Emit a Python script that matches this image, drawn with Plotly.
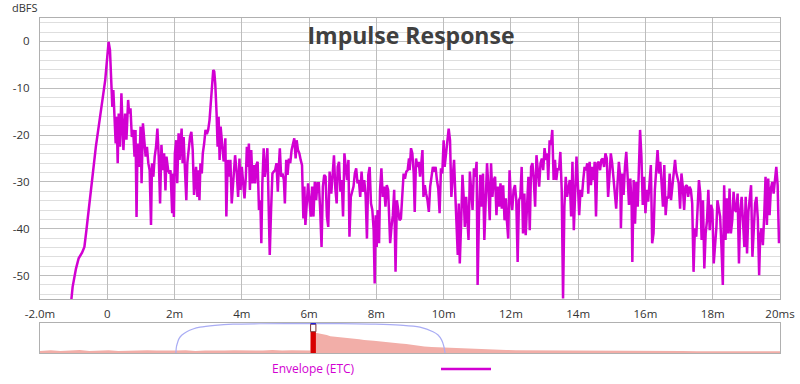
import plotly.graph_objects as go

# ---------------- main ETC trace (time in ms, level in dBFS) ----------------
t_ms = [
    -1.08, -1.03, -0.93, -0.85, -0.75, -0.68, -0.62, -0.54, -0.44, -0.34, -0.24, -0.14, -0.06,
    0.00, 0.04, 0.08, 0.12, 0.15, 0.18, 0.22, 0.25, 0.28, 0.31, 0.34, 0.38, 0.42, 0.46, 0.48,
    0.53, 0.57, 0.62, 0.65, 0.69, 0.73, 0.77, 0.81, 0.84, 0.87, 0.90, 0.95, 0.99, 1.02, 1.06,
    1.10, 1.14, 1.18, 1.22, 1.26, 1.30, 1.33, 1.37, 1.41, 1.45, 1.49, 1.53, 1.57, 1.61, 1.65,
    1.69, 1.73, 1.76, 1.81, 1.85, 1.88, 1.93, 1.96, 1.98, 2.01, 2.05, 2.08, 2.12, 2.15, 2.18,
    2.21, 2.24, 2.27, 2.31, 2.35, 2.38, 2.42, 2.46, 2.50, 2.54, 2.58, 2.61, 2.64, 2.68, 2.71,
    2.74, 2.77, 2.81, 2.84, 2.88, 2.92, 2.96, 3.00, 3.04, 3.07, 3.12, 3.15, 3.18, 3.21, 3.25,
    3.28, 3.31, 3.34, 3.37, 3.41, 3.44, 3.46,
    3.48, 3.51, 3.54, 3.58, 3.62, 3.66, 3.70, 3.75, 3.80, 3.85, 3.89, 3.93, 3.96, 4.00, 4.04,
    4.08, 4.12, 4.15, 4.18, 4.21, 4.24, 4.28, 4.32, 4.36, 4.40, 4.43, 4.47, 4.51, 4.55, 4.58,
    4.61, 4.65, 4.68, 4.72, 4.76, 4.80, 4.83, 4.87, 4.91, 4.95, 4.99, 5.03, 5.07, 5.10, 5.13,
    5.17, 5.21, 5.25, 5.28, 5.32, 5.36, 5.40, 5.44, 5.48, 5.52, 5.56, 5.60, 5.63, 5.67, 5.71,
    5.75, 5.79, 5.83, 5.86, 5.89, 5.93, 5.97, 6.01, 6.05, 6.09, 6.13, 6.17, 6.21, 6.25, 6.29,
    6.33, 6.37, 6.41, 6.45, 6.49, 6.53, 6.57, 6.61, 6.66, 6.70, 6.74, 6.78, 6.82, 6.85, 6.89,
    6.93, 6.97, 7.01, 7.05, 7.09, 7.13, 7.17, 7.20, 7.24, 7.28, 7.32, 7.36, 7.40, 7.44, 7.48,
    7.52, 7.56, 7.60, 7.64, 7.68, 7.72, 7.76, 7.80, 7.84, 7.88, 7.92, 7.95, 7.98, 8.01, 8.04,
    8.08, 8.11, 8.15, 8.19, 8.23, 8.27, 8.31, 8.35, 8.39, 8.41, 8.45, 8.49, 8.53, 8.57, 8.61,
    8.65, 8.69, 8.73, 8.77, 8.81, 8.85, 8.89, 8.93, 8.97,
    8.99, 9.03, 9.07, 9.11, 9.14, 9.18, 9.22, 9.26, 9.30, 9.33, 9.37, 9.40, 9.44, 9.48, 9.52,
    9.56, 9.60, 9.64, 9.68, 9.72, 9.76, 9.80, 9.84, 9.88, 9.92, 9.96, 10.00, 10.03, 10.07,
    10.11, 10.15, 10.19, 10.23, 10.27, 10.31, 10.35, 10.39, 10.42, 10.45, 10.48, 10.52, 10.56,
    10.60, 10.63, 10.67, 10.70, 10.74, 10.78, 10.82, 10.86, 10.90, 10.94, 10.98, 11.01, 11.05,
    11.09, 11.13, 11.17, 11.21, 11.25, 11.29, 11.33, 11.37, 11.41, 11.45, 11.49, 11.53, 11.57,
    11.61, 11.65, 11.69, 11.73, 11.77, 11.81, 11.85, 11.88, 11.92, 11.96, 12.00, 12.04, 12.08,
    12.12, 12.16, 12.20, 12.24, 12.28, 12.32, 12.36, 12.40, 12.44, 12.48, 12.52, 12.56, 12.60,
    12.64, 12.68, 12.72, 12.76, 12.80, 12.84, 12.88, 12.92, 12.96, 13.00, 13.04, 13.08, 13.11,
    13.15, 13.19, 13.23, 13.27, 13.31, 13.35, 13.39, 13.43, 13.47, 13.51, 13.55, 13.59, 13.63,
    13.67, 13.71, 13.75, 13.79, 13.83, 13.87, 13.91, 13.95, 13.99, 14.03, 14.07, 14.11, 14.15,
    14.19, 14.23, 14.27, 14.30, 14.34, 14.38, 14.42, 14.46,
    14.49, 14.53, 14.57, 14.61, 14.65, 14.69, 14.73, 14.77, 14.81, 14.85, 14.89, 14.93, 14.97,
    15.01, 15.05, 15.09, 15.13, 15.17, 15.21, 15.25, 15.27, 15.31, 15.35, 15.39, 15.43, 15.47,
    15.51, 15.55, 15.59, 15.61, 15.65, 15.69, 15.73, 15.77, 15.81, 15.84, 15.88, 15.92, 15.96,
    16.00, 16.04, 16.08, 16.12, 16.16, 16.20, 16.24, 16.28, 16.32, 16.36, 16.40, 16.44, 16.48,
    16.52, 16.56, 16.60, 16.64, 16.68, 16.72, 16.76, 16.80, 16.84, 16.88, 16.91, 16.95, 16.99,
    17.03, 17.07, 17.11, 17.15, 17.19, 17.23, 17.27, 17.31, 17.35, 17.39, 17.43, 17.47, 17.51,
    17.55, 17.59, 17.63, 17.67, 17.71, 17.75, 17.79, 17.83, 17.87, 17.91, 17.95, 17.99, 18.03,
    18.07, 18.11, 18.14, 18.18, 18.22, 18.26, 18.30, 18.34, 18.38, 18.42, 18.46, 18.50, 18.54,
    18.58, 18.62, 18.66, 18.70, 18.74, 18.78, 18.82, 18.86, 18.90, 18.94, 18.98, 19.02, 19.06,
    19.10, 19.14, 19.18, 19.22, 19.26, 19.30, 19.34, 19.38, 19.41, 19.45, 19.49, 19.53, 19.57,
    19.61, 19.65, 19.69, 19.73, 19.77, 19.81, 19.85, 19.89, 19.93, 19.97,
]
etc_db = [
    -56.0, -52.4, -48.5, -46.3, -45.1, -43.9, -40.3, -34.6, -28.9, -22.5, -17.5, -13.2, -8.2,
    -3.3, -0.1, -1.8, -7.5, -14.0, -10.4, -15.4, -21.8, -16.1, -26.0, -15.4, -22.5, -11.1, -17.5, -23.2,
    -15.4, -21.0, -12.5, -15.4, -14.3, -20.4, -18.9, -24.6, -18.9, -37.5, -21.8, -26.8, -18.2, -30.3, -17.5,
    -21.1, -24.6, -22.5, -26.0, -27.5, -39.2, -26.0, -28.9, -24.6, -22.5, -18.6, -24.6, -34.6, -22.1, -27.5,
    -23.9, -31.8, -24.6, -27.5, -28.2, -27.5, -36.7, -28.2, -37.5, -23.9, -21.1, -30.3, -19.6, -25.3, -21.0,
    -18.6, -26.0, -20.4, -27.5, -33.9, -26.0, -23.2, -20.4, -19.3, -23.2, -32.8, -28.9, -26.8, -33.2, -27.5,
    -33.9, -26.0, -28.2, -23.9, -21.8, -18.9, -19.8, -18.9, -16.8, -14.0, -9.0, -6.1, -6.4, -9.0, -15.4,
    -22.5, -16.1, -25.3, -18.2, -21.0, -23.9, -25.6,
    -25.3, -20.7, -37.4, -25.3, -28.9, -25.3, -34.6, -29.6, -24.3, -28.2, -33.2, -25.0, -31.7, -26.8, -29.6,
    -33.5, -28.9, -22.5, -26.8, -21.8, -31.7, -23.2, -30.3, -26.4, -30.3, -26.4, -25.7, -36.0, -33.9, -43.1,
    -30.3, -22.8, -28.9, -26.8, -22.8, -36.7, -45.6, -36.0, -28.2, -27.8, -27.5, -26.0, -32.1, -26.8, -22.8,
    -28.9, -28.2, -29.6, -34.6, -25.3, -28.5, -25.0, -26.0, -23.2, -21.8, -20.7, -25.0, -21.1, -23.2, -23.9,
    -25.3, -26.4, -37.8, -31.0, -39.2, -35.3, -30.3, -33.9, -37.4, -31.0, -37.4, -30.0, -33.9, -30.3, -30.3,
    -36.0, -43.9, -31.0, -28.5, -28.9, -37.4, -39.6, -27.8, -32.5, -26.8, -24.3, -31.4, -34.6, -26.8, -25.7,
    -32.1, -29.6, -37.4, -23.9, -26.8, -29.6, -25.3, -41.7, -33.2, -31.7, -31.0, -28.2, -27.1, -30.3, -29.6,
    -33.2, -27.8, -32.1, -29.6, -32.8, -42.1, -28.5, -26.8, -34.6, -36.0, -40.3, -51.7, -37.1, -43.9, -36.0,
    -43.1, -31.7, -27.1, -33.2, -31.0, -35.3, -30.7, -31.7, -37.4, -43.1, -39.6, -37.1, -31.7, -49.2, -33.9,
    -36.0, -38.2, -37.8, -33.5, -28.2, -29.3, -27.8, -27.5, -25.0,
    -27.5, -22.8, -23.9, -28.2, -36.4, -25.0, -26.8, -25.7, -28.9, -26.0, -23.2, -33.2, -30.7, -32.5, -33.9,
    -36.4, -31.0, -28.9, -26.8, -27.8, -26.8, -29.6, -31.4, -36.7, -27.1, -28.2, -21.1, -26.8, -24.3,
    -21.8, -18.6, -21.1, -33.2, -28.9, -25.3, -33.2, -40.3, -45.6, -34.6, -47.4, -38.9, -28.5,
    -33.9, -39.6, -33.2, -37.4, -42.4, -27.8, -31.7, -36.0, -27.1, -28.9, -25.7, -52.0, -37.4,
    -28.5, -35.3, -28.2, -42.4, -31.7, -26.0, -31.0, -38.2, -26.0, -33.2, -29.6, -28.9, -37.1,
    -31.0, -35.3, -30.3, -35.7, -30.7, -38.2, -33.5, -38.2, -42.1, -27.5, -33.9, -36.0, -31.7,
    -30.7, -33.9, -47.1, -33.9, -33.2, -26.8, -41.0, -32.5, -41.4, -33.2, -28.9, -40.3, -26.8,
    -26.0, -29.6, -35.3, -24.3, -27.5, -31.0, -26.0, -25.0, -27.5, -22.8, -25.3, -23.9, -29.6,
    -21.1, -22.1, -18.9, -29.6, -25.3, -29.6, -27.1, -27.5, -23.6, -31.7, -54.9, -35.3, -28.9,
    -33.2, -31.0, -29.6, -37.4, -25.7, -40.3, -31.0, -24.6, -30.3, -37.1, -31.7, -33.2, -29.6,
    -26.8, -27.5, -26.0, -32.5, -25.7, -30.7, -26.8, -29.6,
    -25.7, -37.4, -26.0, -25.7, -27.5, -25.3, -25.0, -26.8, -23.9, -25.0, -33.2, -28.9, -23.9,
    -26.0, -28.9, -32.5, -35.7, -30.3, -25.7, -28.9, -39.9, -28.2, -32.8, -26.8, -23.6, -28.9,
    -34.9, -29.3, -35.3, -47.1, -29.6, -38.9, -30.0, -35.3, -23.2, -18.9, -24.6, -34.9, -28.9,
    -36.7, -31.7, -34.2, -30.3, -26.4, -43.1, -41.0, -31.7, -26.8, -23.2, -28.2, -25.7, -30.3,
    -35.3, -26.4, -37.1, -33.2, -33.5, -28.2, -33.9, -31.0, -27.8, -25.3, -27.8, -28.9, -30.3,
    -35.7, -28.2, -31.0, -36.0, -31.0, -30.7, -33.2, -31.0, -31.7, -34.6, -49.2, -39.9, -41.7,
    -36.7, -29.6, -32.5, -42.4, -33.9, -48.5, -41.0, -38.2, -31.7, -40.3, -34.9, -36.0, -47.4,
    -43.9, -39.6, -33.9, -35.3, -37.4, -43.9, -52.0, -30.7, -42.4, -33.5, -41.0, -31.4, -41.0,
    -38.2, -32.1, -36.0, -36.4, -32.5, -47.4, -36.0, -33.2, -38.5, -43.9, -33.2, -45.3, -36.4,
    -33.2, -30.7, -46.0, -38.2, -34.6, -33.2, -37.8, -49.9, -41.7, -39.9, -43.5, -37.4, -28.9,
    -39.2, -29.3, -37.1, -31.4, -30.0, -32.5, -29.6, -26.8, -30.7, -43.1,
]

x_tickvals = [-2, 0, 2, 4, 6, 8, 10, 12, 14, 16, 18, 20]
x_ticktext = ["-2.0m", "0", "2m", "4m", "6m", "8m", "10m", "12m", "14m", "16m", "18m", "20ms"]
y_tickvals = [0, -10, -20, -30, -40, -50]
y_ticktext = ["0", "-10", "-20", "-30", "-40", "-50"]

# ---------------- overview strip (whole response, ms; normalised level) ----------------
ov_t = [
    -1125, -1080, -1040, -1000, -960, -920, -880, -840, -800, -760, -720, -680, -640, -600,
    -560, -520, -480, -440, -400, -360, -320, -280, -240, -200, -160, -120, -80, -40, -3,
    -2, 20, 35, 50, 65, 80, 95, 110, 125, 140, 160, 180, 200, 220, 240, 260, 280, 300, 320,
    345, 370, 395, 420, 445, 470, 500, 530, 560, 590, 620, 650, 690, 730, 770, 810, 850, 900,
    950, 1000, 1060, 1120, 1180, 1240, 1300, 1360, 1420, 1480, 1540, 1600, 1660, 1720, 1780,
    1840, 1900, 1946,
]
ov_level = [
    0.07, 0.09, 0.07, 0.08, 0.10, 0.07, 0.08, 0.09, 0.07, 0.08, 0.07, 0.09, 0.08, 0.07,
    0.08, 0.09, 0.07, 0.08, 0.07, 0.08, 0.09, 0.08, 0.07, 0.08, 0.10, 0.08, 0.09, 0.08, 0.08,
    0.71, 0.68, 0.64, 0.62, 0.60, 0.56, 0.55, 0.54, 0.51, 0.51, 0.49, 0.47, 0.46, 0.43, 0.43,
    0.41, 0.39, 0.38, 0.37, 0.34, 0.32, 0.30, 0.27, 0.25, 0.22, 0.20, 0.19, 0.16, 0.15, 0.14,
    0.13, 0.12, 0.11, 0.10, 0.10, 0.09, 0.09, 0.08, 0.09, 0.08, 0.08, 0.07, 0.08, 0.08, 0.07,
    0.08, 0.07, 0.07, 0.06, 0.07, 0.06, 0.06, 0.07, 0.06, 0.06,
]
win_t = [-561, -559, -554, -548, -536, -516, -490, -461, -399, -324, -212, -46, 120, 245,
         369, 452, 506, 527, 542, 550, 554, 556]
win_level = [0, 0.2, 0.35, 0.48, 0.6, 0.71, 0.8, 0.86, 0.92, 0.96, 0.975, 0.98, 0.98, 0.965,
             0.93, 0.86, 0.71, 0.6, 0.43, 0.25, 0.1, 0]
view_start, view_end = -2, 20
view_peak_level = 0.71

MAGENTA = "#d200d2"
FONT = "Open Sans"

fig = go.Figure()
fig.add_trace(go.Scatter(x=t_ms, y=etc_db, mode="lines",
                         line=dict(color=MAGENTA, width=2.5), xaxis="x", yaxis="y",
                         name="Envelope (ETC)", showlegend=False))
fig.add_trace(go.Scatter(x=ov_t, y=ov_level, mode="lines", fill="tozeroy",
                         fillcolor="#f2aea8", line=dict(width=0, color="#f2aea8"),
                         xaxis="x2", yaxis="y2", showlegend=False))
fig.add_trace(go.Scatter(x=win_t, y=win_level, mode="lines",
                         line=dict(color="#a9acf4", width=1.2, shape="spline"),
                         xaxis="x2", yaxis="y2", showlegend=False))

W, H = 800, 384
top_m, bot_m = 18, 0
ph = H - top_m - bot_m
def py(p):
    # pixel row -> paper fraction
    return (H - bot_m - p) / ph

fig.update_layout(
    width=W, height=H,
    margin=dict(l=40, r=20, t=top_m, b=bot_m, autoexpand=False),
    paper_bgcolor="white", plot_bgcolor="white",
    font=dict(family=FONT, size=11, color="#333333"),
    title=dict(text="<b>Impulse Response</b>", x=(411 - 40) / 740, xref="paper",
               y=1 - 36 / H, yref="container", xanchor="center", yanchor="middle",
               font=dict(family=FONT, size=23, color="#404040")),
    xaxis=dict(domain=[0, 1], anchor="y", range=[-2, 20], tickmode="array",
               tickvals=x_tickvals, ticktext=x_ticktext, showgrid=True,
               gridcolor="#bdbdbd", gridwidth=1, zeroline=False, showline=True,
               linecolor="#b0b0b0", mirror=True, ticks="outside", ticklen=4,
               tickcolor="rgba(0,0,0,0)", tickfont=dict(size=11.5, color="#333"),
               automargin=False),
    yaxis=dict(domain=[py(299), 1], anchor="x", range=[-55, 5], tickmode="array",
               tickvals=y_tickvals, ticktext=y_ticktext, showgrid=True,
               gridcolor="#bdbdbd", gridwidth=1, zeroline=False, showline=True,
               linecolor="#b0b0b0", mirror=True, ticks="outside", ticklen=7,
               tickcolor="rgba(0,0,0,0)", tickfont=dict(size=11.5, color="#333"),
               minor=dict(tick0=0, dtick=2, showgrid=True, gridcolor="#dedede",
                          gridwidth=1),
               automargin=False),
    xaxis2=dict(domain=[0, 1], anchor="y2", range=[-1125, 1946], showgrid=False,
                zeroline=False, showticklabels=False, showline=True,
                linecolor="#b0b0b0", mirror=True, automargin=False),
    yaxis2=dict(domain=[py(353), py(323)], anchor="x2", range=[0, 1], showgrid=False,
                zeroline=False, showticklabels=False, showline=True,
                linecolor="#b0b0b0", mirror=True, automargin=False),
    showlegend=False,
    hovermode=False,
)

# overview selection marker (current view window)
fig.add_shape(type="rect", xref="x2", yref="y2", x0=view_start, x1=view_end, y0=0,
              y1=view_peak_level, fillcolor="#d80000", line=dict(width=0))
fig.add_shape(type="rect", xref="x2", yref="y2", x0=view_start, x1=view_end,
              y0=view_peak_level, y1=0.96, fillcolor="white",
              line=dict(width=1, color="#7a3030"))
fig.add_shape(type="line", xref="x2", yref="y2", x0=view_start, x1=view_end, y0=0.99,
              y1=0.99, line=dict(width=2, color="#2020e0"))

# y axis unit label
fig.add_annotation(text="dBFS", xref="paper", yref="paper", x=(25 - 40) / 740, y=py(8),
                   showarrow=False, xanchor="center", yanchor="middle",
                   font=dict(family=FONT, size=11, color="#333"))
# legend (text then line sample)
fig.add_annotation(text="Envelope (ETC)", xref="paper", yref="paper",
                   x=(313 - 40) / 740, y=py(368), showarrow=False, xanchor="center",
                   yanchor="middle", font=dict(family=FONT, size=12, color=MAGENTA))
fig.add_shape(type="line", xref="paper", yref="paper", x0=(441 - 40) / 740,
              x1=(491 - 40) / 740, y0=py(369), y1=py(369),
              line=dict(color=MAGENTA, width=2.5))

# remove the default page margin so the 800x384 figure fills the window exactly
fig.write_html("out.html", config={"displayModeBar": False},
               post_script="document.body.style.margin='0';document.body.style.overflow='hidden';")
